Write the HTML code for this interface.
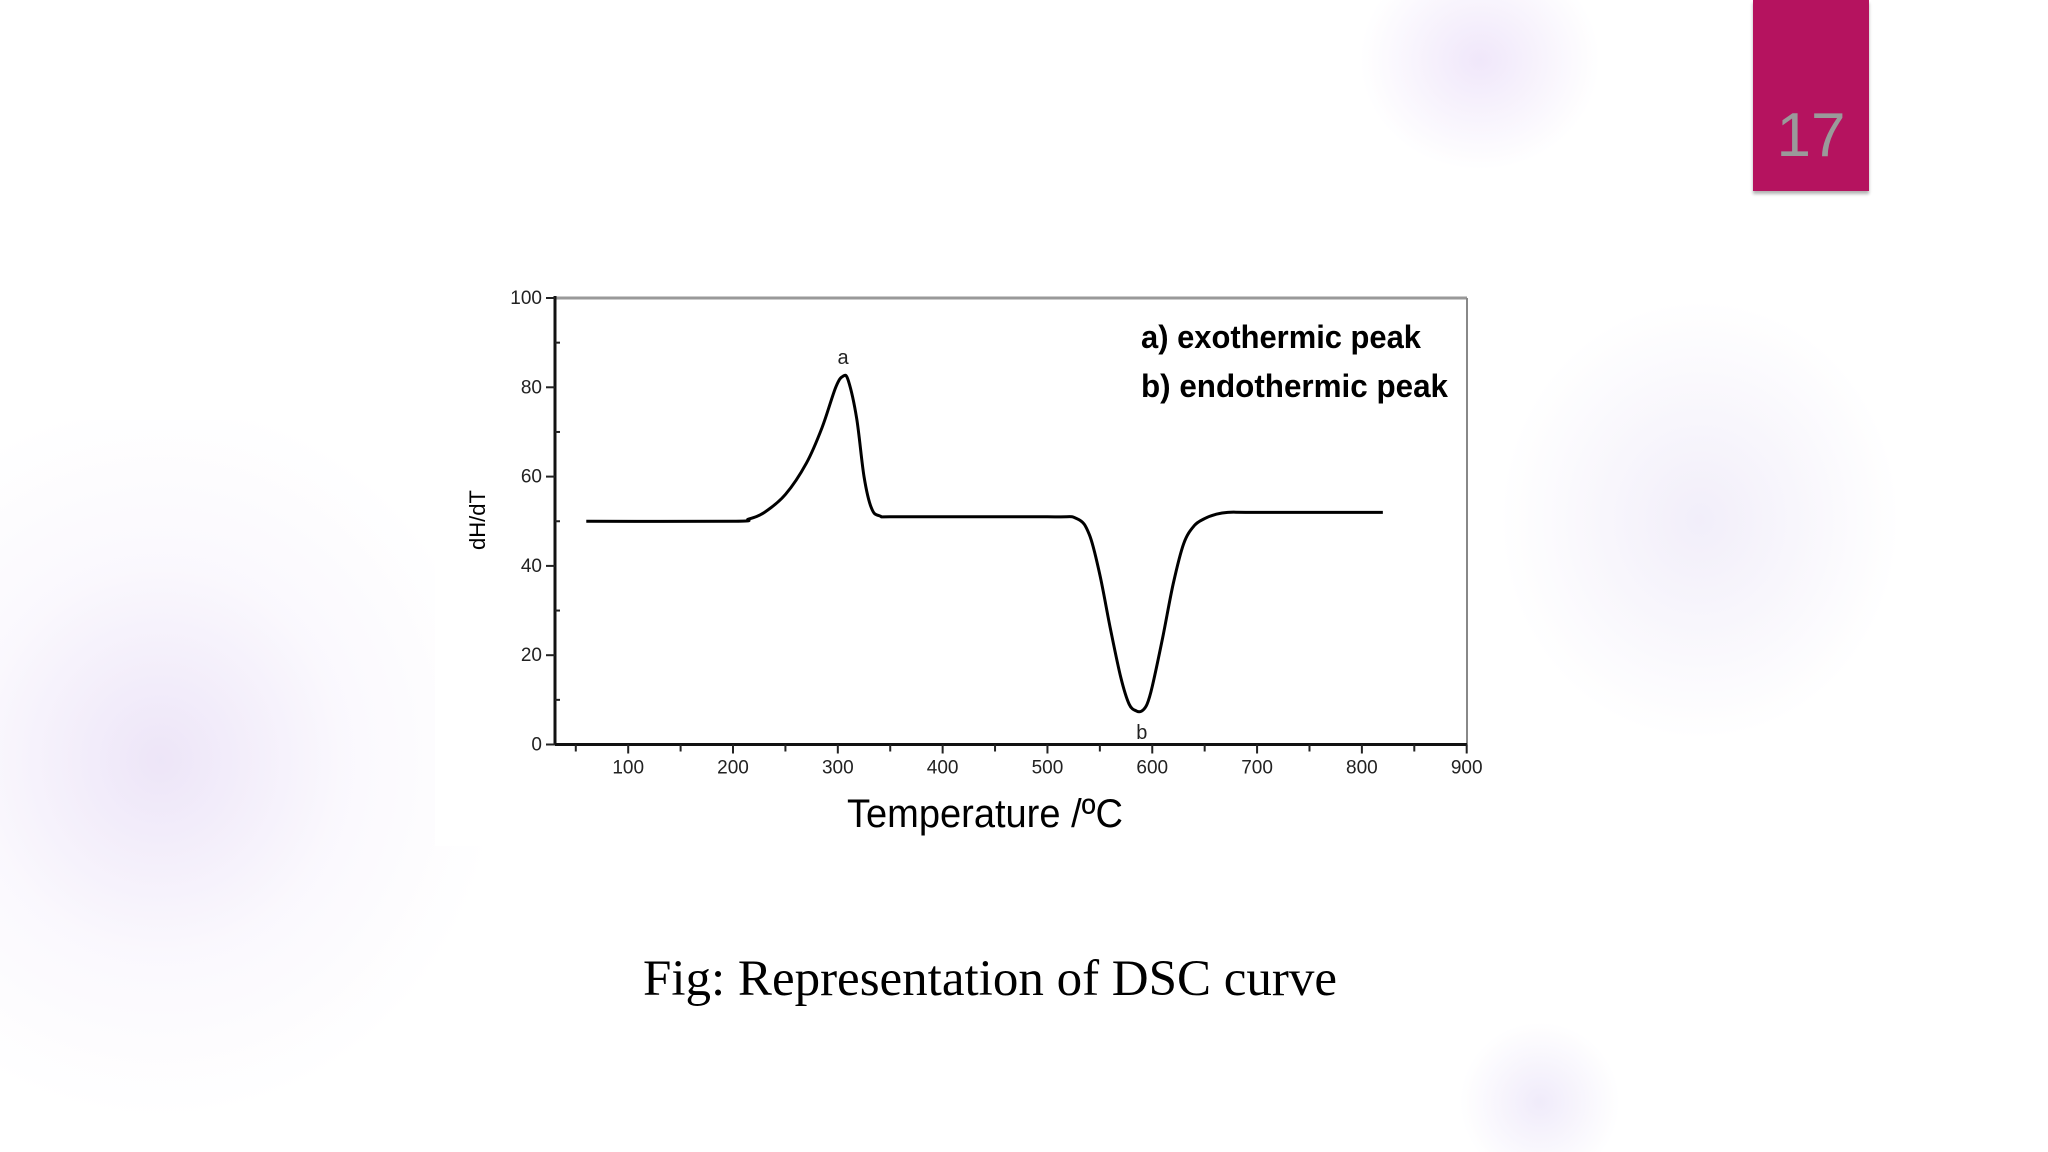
<!DOCTYPE html>
<html><head><meta charset="utf-8"><style>
html,body{margin:0;padding:0;}
body{width:2048px;height:1152px;position:relative;overflow:hidden;background:#fff;font-family:"Liberation Sans",sans-serif;}
#bg{position:absolute;left:0;top:0;width:2048px;height:1152px;overflow:hidden;}
.blob{position:absolute;}
</style></head><body>
<div id="bg">
<div class="blob" style="left:0;top:420px;width:700px;height:732px;background:radial-gradient(ellipse 340px 360px at 160px 340px,rgba(225,212,243,0.6),rgba(240,233,250,0.3) 55%,rgba(255,255,255,0) 100%);"></div>
<div class="blob" style="left:1480px;top:280px;width:440px;height:480px;background:radial-gradient(ellipse 200px 220px at 50% 50%,rgba(236,231,247,0.7),rgba(255,255,255,0) 100%);"></div>
<div class="blob" style="left:1330px;top:0;width:300px;height:200px;background:radial-gradient(ellipse 120px 110px at 50% 30%,rgba(230,215,247,0.6),rgba(255,255,255,0) 100%);"></div>
<div class="blob" style="left:1430px;top:1010px;width:220px;height:142px;background:radial-gradient(ellipse 80px 80px at 50% 65%,rgba(230,222,247,0.6),rgba(255,255,255,0) 100%);"></div>
</div>
<div style="position:absolute;left:1753px;top:0;width:116px;height:191px;background:#b5135f;box-shadow:0 3px 3px rgba(0,0,0,0.3);">
<div style="position:absolute;left:0;right:0;top:100px;text-align:center;color:#9a9a9a;font-size:62px;">17</div></div>
<div style="position:absolute;left:435px;top:272px;width:1050px;height:574px;background:#fff;"></div>
<svg id="chart" width="2048" height="1152" style="position:absolute;left:0;top:0;">
<text x="1141" y="348" font-size="32" font-weight="bold" textLength="280" lengthAdjust="spacingAndGlyphs">a) exothermic peak</text>
<text x="1141" y="397" font-size="32" font-weight="bold" textLength="307" lengthAdjust="spacingAndGlyphs">b) endothermic peak</text>
<text x="847" y="827" font-size="40" textLength="276" lengthAdjust="spacingAndGlyphs">Temperature /ºC</text>
<text transform="translate(485,520) rotate(-90)" text-anchor="middle" font-size="22">dH/dT</text>
</svg>
<div style="position:absolute;left:0;width:1980px;top:950px;text-align:center;font-family:'Liberation Serif',serif;font-size:51px;color:#000;">Fig: Representation of DSC curve</div>
<script>
const xTicks=[100,200,300,400,500,600,700,800,900];
const yTicks=[0,20,40,60,80,100];
const temps=[60,200,215,230,250,270,285,298,305,310,318,325,332,340,360,500,528,540,550,560,570,578,585,590,595,600,610,620,630,640,650,660,672,700,820];
const dhdt=[50,50,50.5,52,56,63,71,80,82.5,81.5,73,60,53,51.2,51,51,50.6,47,38,26,15,9,7.5,7.5,9,13,24,36,45,49,50.6,51.5,52,52,52];
const peakLabels=["a","b"];
const peakTemps=[305,590];
const peakVals=[82.5,7.5];
const NS="http://www.w3.org/2000/svg";
const svg=document.getElementById('chart');
const X0=555,X1=1467,Y0=744.5,Y1=298;
function sx(v){return 628.2+(v-100)*(1466.7-628.2)/800;}
function sy(v){return Y0+(Y1-Y0)*v/100;}
function mk(t,a){const e=document.createElementNS(NS,t);for(const k in a)e.setAttribute(k,a[k]);svg.appendChild(e);return e;}
let e;
e=mk('line',{x1:X0,y1:Y1,x2:X1,y2:Y1,stroke:'#999','stroke-width':3});


e=mk('line',{x1:X1,y1:Y1,x2:X1,y2:Y0,stroke:'#888','stroke-width':2});


e=mk('line',{x1:X0,y1:Y1-2,x2:X0,y2:Y0,stroke:'#111','stroke-width':3});


e=mk('line',{x1:X0,y1:Y0,x2:X1,y2:Y0,stroke:'#111','stroke-width':3});


for(let v=0;v<=100;v+=10){const y=sy(v);const major=v%20===0;
e=mk('line',{x1:X0-(major?9:0),y1:y,x2:X0+(major?0:5),y2:y,stroke:'#222','stroke-width':2});

}
yTicks.forEach(v=>{e=mk('text',{x:X0-13,y:sy(v)+6,'text-anchor':'end','font-size':19,fill:'#222'});e.textContent=v;

});
for(let v=50;v<=900;v+=50){const x=sx(v);
e=mk('line',{x1:x,y1:Y0,x2:x,y2:Y0+(v%100===0?9:7),stroke:'#222','stroke-width':2});

}
xTicks.forEach(v=>{e=mk('text',{x:sx(v),y:Y0+29,'text-anchor':'middle','font-size':19,fill:'#222'});e.textContent=v;

});
const pts=temps.map((t,i)=>[sx(t),sy(dhdt[i])]);
let d='M'+pts[0][0]+','+pts[0][1];
for(let i=0;i<pts.length-1;i++){const p0=pts[Math.max(0,i-1)],p1=pts[i],p2=pts[i+1],p3=pts[Math.min(pts.length-1,i+2)];
const c1=[p1[0]+(p2[0]-p0[0])/6,p1[1]+(p2[1]-p0[1])/6],c2=[p2[0]-(p3[0]-p1[0])/6,p2[1]-(p3[1]-p1[1])/6];
d+=' C'+c1+' '+c2+' '+p2;}
e=mk('path',{d:d,fill:'none',stroke:'#000','stroke-width':3});


peakLabels.forEach((l,i)=>{const up=peakVals[i]>50;
e=mk('text',{x:sx(peakTemps[i]),y:up?sy(peakVals[i])-12:sy(peakVals[i])+28,'text-anchor':'middle','font-size':20,fill:'#222'});e.textContent=l;

});
</script>
</body></html>
